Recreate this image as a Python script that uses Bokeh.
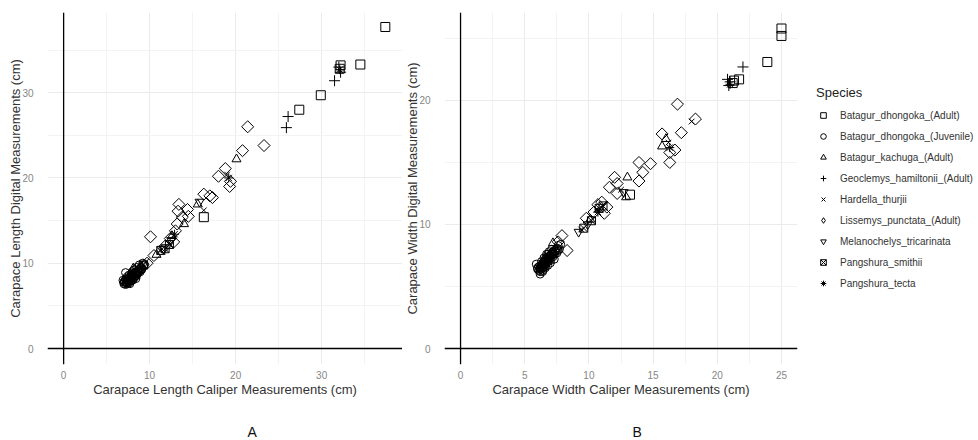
import numpy as np
from bokeh.plotting import figure
from bokeh.models import Range1d, FixedTicker, Span, Legend, LegendItem, Title
from bokeh.layouts import row
from bokeh.embed import file_html
from bokeh.resources import INLINE

species = [
    "Batagur_dhongoka_(Adult)",
    "Batagur_dhongoka_(Juvenile)",
    "Batagur_kachuga_(Adult)",
    "Geoclemys_hamiltonii_(Adult)",
    "Hardella_thurjii",
    "Lissemys_punctata_(Adult)",
    "Melanochelys_tricarinata",
    "Pangshura_smithii",
    "Pangshura_tecta",
]

# ---- Panel A: carapace length (caliper, digital) ----
cl_bd_adult_cal = [16.3, 27.4, 29.9, 32.1, 32.2, 34.5, 37.4]
cl_bd_adult_dig = [15.4, 28.0, 29.7, 32.8, 33.2, 33.3, 37.7]
cl_bd_juv_cal = [6.9, 7.2, 7.0, 7.2, 7.3, 7.4, 7.5, 7.5, 7.6, 7.7, 7.8, 7.8, 7.9, 8.0, 8.0, 8.1, 8.2, 8.3, 8.3, 8.4,
                 8.5, 8.6, 8.7, 8.8, 8.9, 9.0, 9.1, 9.3, 7.4, 7.6, 7.9, 8.2, 8.5, 7.1, 7.3, 8.0, 8.8, 9.2, 7.7, 8.4,
                 7.3, 7.5, 7.7, 7.9, 8.1, 8.3, 8.5, 8.7, 8.9, 7.4, 7.6, 7.8, 8.0, 8.2, 8.4, 8.6, 7.2, 7.0, 9.0, 9.4]
cl_bd_juv_dig = [8.0, 8.9, 7.6, 7.5, 7.8, 7.6, 7.9, 8.2, 7.7, 8.0, 8.3, 7.9, 8.1, 8.4, 8.0, 8.6, 8.3, 8.7, 8.9, 8.5,
                 8.8, 9.1, 8.9, 9.3, 9.0, 9.5, 9.3, 9.7, 8.4, 8.6, 8.8, 9.2, 9.5, 7.9, 8.2, 9.0, 9.8, 10.0, 7.6, 8.2,
                 7.7, 8.0, 8.2, 8.5, 8.2, 8.5, 8.6, 9.0, 9.4, 7.9, 8.1, 8.5, 8.7, 8.8, 9.0, 8.8, 8.1, 7.8, 9.2, 9.8]
cl_bk_cal = [8.1, 10.8, 12.6, 14.0, 15.6, 20.1]
cl_bk_dig = [9.4, 11.0, 13.2, 14.6, 16.9, 22.2]
cl_gh_cal = [25.9, 26.1, 31.5, 32.2, 32.0]
cl_gh_dig = [25.9, 27.2, 31.4, 32.4, 33.0]
cl_ht_cal = [9.6, 11.2, 12.2, 16.3, 19.0]
cl_ht_dig = [10.2, 11.5, 12.3, 16.2, 20.4]
cl_lp_cal = [9.0, 9.7, 10.1, 10.5, 11.8, 12.4, 12.8, 13.0, 13.3, 13.4, 13.8, 14.4, 14.5, 13.2, 16.3, 17.0, 17.3,
             18.0, 18.8, 19.3, 19.4, 20.8, 21.4, 23.3]
cl_lp_dig = [9.4, 10.0, 13.1, 10.9, 12.0, 12.9, 12.5, 13.8, 16.1, 16.9, 15.4, 16.3, 15.5, 14.6, 18.1, 17.9, 17.7,
             20.2, 21.1, 19.0, 19.6, 23.2, 26.0, 23.8]
cl_mt_cal = [11.6, 12.5, 15.8]
cl_mt_dig = [11.7, 12.7, 17.2]
cl_ps_cal = [9.3, 11.3, 11.8, 12.3]
cl_ps_dig = [9.8, 11.5, 11.7, 12.2]
cl_pt_cal = [19.2, 32.1, 12.9]
cl_pt_dig = [20.0, 32.7, 13.4]

# ---- Panel B: carapace width (caliper, digital) ----
cw_bd_adult_cal = [13.2, 21.2, 21.3, 21.7, 23.9, 25.0, 25.0]
cw_bd_adult_dig = [12.4, 21.4, 21.6, 21.7, 23.1, 25.2, 25.8]
cw_bd_juv_cal = [5.9, 6.1, 6.2, 6.2, 6.3, 6.3, 6.4, 6.4, 6.5, 6.5, 6.6, 6.6, 6.7, 6.7, 6.8, 6.8, 6.9, 7.0, 7.0, 7.1,
                 7.2, 7.2, 7.3, 7.4, 7.5, 7.5, 6.1, 6.3, 6.5, 6.7, 6.9, 7.1, 6.4, 6.6, 6.8, 7.0, 7.3, 7.6, 7.7, 6.0,
                 6.2, 6.4, 6.6, 6.8, 7.0, 7.2, 7.4, 6.3, 6.5, 6.7, 6.9, 7.1, 7.3, 6.0, 6.2, 6.4, 6.6, 6.8, 7.6, 7.8]
cw_bd_juv_dig = [6.8, 6.3, 6.2, 6.5, 6.4, 6.7, 6.5, 6.9, 6.6, 7.0, 6.8, 7.2, 6.9, 7.3, 7.0, 7.4, 7.2, 7.5, 7.1, 7.6,
                 7.4, 7.8, 7.6, 7.9, 7.7, 8.1, 6.6, 7.0, 7.3, 7.6, 7.8, 8.0, 6.3, 6.5, 6.7, 6.9, 7.2, 8.3, 8.0, 6.5,
                 6.4, 6.7, 7.0, 7.2, 7.3, 7.6, 7.8, 6.6, 6.8, 7.1, 7.4, 7.7, 7.9, 6.4, 6.0, 6.2, 6.6, 7.6, 7.9, 8.4]
cw_bk_cal = [7.2, 10.1, 12.9, 13.0, 15.7, 16.0]
cw_bk_dig = [8.5, 10.4, 12.2, 13.8, 16.3, 16.9]
cw_gh_cal = [20.8, 20.9, 21.0, 22.0]
cw_gh_dig = [21.7, 21.2, 21.5, 22.7]
cw_ht_cal = [9.4, 10.6, 12.5, 16.2, 18.0]
cw_ht_dig = [9.6, 11.2, 12.8, 16.6, 18.3]
cw_lp_cal = [7.9, 8.3, 7.6, 9.8, 10.4, 10.7, 11.0, 11.2, 11.6, 12.0, 12.2, 12.2, 13.9, 13.9, 14.2, 14.8, 15.7, 16.3,
             16.3, 16.7, 17.2, 16.9, 18.3, 11.4]
cw_lp_dig = [9.1, 7.9, 8.6, 10.5, 11.0, 11.6, 11.8, 10.9, 13.0, 13.8, 13.3, 12.5, 13.5, 15.0, 14.2, 14.9, 17.3, 15.0,
             15.8, 16.0, 17.4, 19.7, 18.5, 11.4]
cw_mt_cal = [9.2, 9.9, 12.7]
cw_mt_dig = [9.4, 10.0, 12.6]
cw_ps_cal = [9.6, 10.2, 10.8, 11.1]
cw_ps_dig = [9.7, 10.3, 11.3, 11.5]
cw_pt_cal = [16.3, 10.7, 21.0]
cw_pt_dig = [16.2, 11.0, 21.3]

cl_data = [(cl_bd_adult_cal, cl_bd_adult_dig), (cl_bd_juv_cal, cl_bd_juv_dig), (cl_bk_cal, cl_bk_dig),
           (cl_gh_cal, cl_gh_dig), (cl_ht_cal, cl_ht_dig), (cl_lp_cal, cl_lp_dig), (cl_mt_cal, cl_mt_dig),
           (cl_ps_cal, cl_ps_dig), (cl_pt_cal, cl_pt_dig)]
cw_data = [(cw_bd_adult_cal, cw_bd_adult_dig), (cw_bd_juv_cal, cw_bd_juv_dig), (cw_bk_cal, cw_bk_dig),
           (cw_gh_cal, cw_gh_dig), (cw_ht_cal, cw_ht_dig), (cw_lp_cal, cw_lp_dig), (cw_mt_cal, cw_mt_dig),
           (cw_ps_cal, cw_ps_dig), (cw_pt_cal, cw_pt_dig)]

# marker styles per species: (marker, size, angle)
styles = [("square", 9, 0.0), ("circle", 8, 0.0), ("triangle", 9, 0.0), ("cross", 11, 0.0), ("x", 8, 0.0),
          ("square", 8.5, np.pi / 4), ("inverted_triangle", 9, 0.0), ("square_x", 8, 0.0), ("asterisk", 9, 0.0)]

FONT = "Liberation Sans"


def make_panel(data, xr, yr, xt, xm, yt, ym, xlab, ylab, fw, mbl, mbr, letter, letter_off):
    p = figure(frame_width=fw, frame_height=352, x_range=Range1d(*xr), y_range=Range1d(*yr),
               output_backend="svg", toolbar_location=None,
               min_border_left=mbl, min_border_right=mbr, min_border_top=12, min_border_bottom=2)
    p.outline_line_color = None
    p.background_fill_color = "white"
    p.xaxis.ticker = FixedTicker(ticks=xt, minor_ticks=xm)
    p.yaxis.ticker = FixedTicker(ticks=yt, minor_ticks=ym)
    for ax in (p.xaxis, p.yaxis):
        ax.axis_line_color = None
        ax.major_tick_line_color = None
        ax.minor_tick_line_color = None
        ax.major_label_text_font = FONT
        ax.major_label_text_font_size = "10px"
        ax.major_label_text_color = "#868686"
        ax.axis_label_text_font = FONT
        ax.axis_label_text_font_size = "13px"
        ax.axis_label_text_font_style = "normal"
        ax.axis_label_text_color = "#333333"
    p.xaxis.major_label_standoff = 0
    p.yaxis.major_label_standoff = 8
    p.xaxis.axis_label_standoff = 0
    p.yaxis.axis_label_standoff = -4
    p.xaxis.axis_label = xlab
    p.yaxis.axis_label = ylab
    for g in (p.xgrid, p.ygrid):
        g.grid_line_color = "#ebebeb"
        g.grid_line_width = 1
        g.minor_grid_line_color = "#f3f3f3"
        g.minor_grid_line_width = 1
    p.add_layout(Span(location=0, dimension="height", line_color="black", line_width=1.3))
    p.add_layout(Span(location=0, dimension="width", line_color="black", line_width=1.3))
    renderers = []
    for (xs, ys), (mk, sz, ang) in zip(data, styles):
        r = p.scatter(xs, ys, marker=mk, size=sz, angle=ang, fill_color=None, line_color="black",
                      line_width=1)
        renderers.append(r)
    t = Title(text=letter, align="left", offset=letter_off, text_font=FONT, text_font_size="14px",
              text_font_style="normal", text_color="#111111", standoff=45)
    p.add_layout(t, "below")
    return p, renderers


pA, _ = make_panel(cl_data, (-1.875, 39.4), (-1.875, 39.4), [0, 10, 20, 30], [5, 15, 25, 35],
                   [0, 10, 20, 30], [5, 15, 25, 35],
                   "Carapace Length Caliper Measurements (cm)", "Carapace Length Digital Measurements (cm)",
                   355, 47, 0, "A", 200)
pB, rB = make_panel(cw_data, (-1.25, 26.25), (-1.29, 27.09), [0, 5, 10, 15, 20, 25],
                    [2.5, 7.5, 12.5, 17.5, 22.5], [0, 10, 20], [5, 15, 25],
                    "Carapace Width Caliper Measurements (cm)", "Carapace Width Digital Measurements (cm)",
                    353, 38, 0, "B", 188)

# legend-only swatch for the diamond (rotated squares do not rotate in legends);
# it has no drawable position (NaN), so it only appears in the legend
diamond_key = pB.scatter(x=[float("nan")], y=[float("nan")], marker="diamond", size=13, fill_color=None,
                         line_color="black", line_width=1)
legend_renderers = list(rB)
legend_renderers[5] = diamond_key

legend = Legend(items=[LegendItem(label=s, renderers=[r]) for s, r in zip(species, legend_renderers)],
                location="center_left", title="Species")
legend.title_text_font = FONT
legend.title_text_font_size = "13px"
legend.title_text_font_style = "normal"
legend.title_text_color = "#222222"
legend.label_text_font = FONT
legend.label_text_font_size = "10px"
legend.label_text_color = "#333333"
legend.border_line_color = None
legend.background_fill_alpha = 0
legend.glyph_width = 14
legend.glyph_height = 17
legend.label_height = 17
legend.spacing = 4
legend.label_standoff = 10
legend.padding = 3
legend.margin = 19
legend.title_standoff = 7
pB.add_layout(legend, "right")

layout = row(pA, pB)
open("out.html", "w").write(file_html(layout, INLINE))
